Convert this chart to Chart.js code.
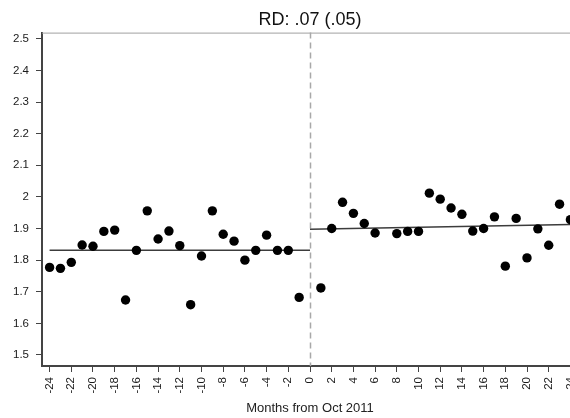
<!DOCTYPE html>
<html>
<head>
<meta charset="utf-8">
<script src="https://cdn.jsdelivr.net/npm/chart.js@4.4.1/dist/chart.umd.min.js"></script>
<style>
  html, body { margin: 0; padding: 0; background: #fff; overflow: hidden; }
  #wrap { width: 570px; height: 418px; overflow: hidden; }
</style>
</head>
<body>
<div id="wrap"><canvas id="rdChart" width="590" height="418"></canvas></div>
<script>
// monthly means before and after the cutoff (month 7 has no observation)
const preMonths = [-24, -23, -22, -21, -20, -19, -18, -17, -16, -15, -14, -13,
  -12, -11, -10, -9, -8, -7, -6, -5, -4, -3, -2, -1];
const preValues = [1.777, 1.774, 1.793, 1.848, 1.844, 1.891, 1.895, 1.674, 1.831, 1.956, 1.867, 1.892,
  1.846, 1.659, 1.813, 1.956, 1.882, 1.860, 1.800, 1.831, 1.879, 1.831, 1.831, 1.682];
const postMonths = [1, 2, 3, 4, 5, 6, 8, 9, 10, 11, 12, 13, 14, 15, 16, 17, 18, 19, 20, 21, 22, 23, 24];
const postValues = [1.712, 1.900, 1.983, 1.948, 1.916, 1.886, 1.884, 1.891, 1.891, 2.012, 1.993, 1.965,
  1.945, 1.892, 1.900, 1.937, 1.781, 1.932, 1.807, 1.899, 1.847, 1.977, 1.928];

// linear fits on each side of the cutoff
const preFitX = [-24, 0];
const preFitY = [1.831, 1.831];
const postFitX = [0, 24];
const postFitY = [1.898, 1.913];

const cutoff = 0;
const xTicks = [-24, -22, -20, -18, -16, -14, -12, -10, -8, -6, -4, -2, 0,
  2, 4, 6, 8, 10, 12, 14, 16, 18, 20, 22, 24];
const yTicks = [1.5, 1.6, 1.7, 1.8, 1.9, 2.0, 2.1, 2.2, 2.3, 2.4, 2.5];

const FONT = "'Liberation Sans', Arial, sans-serif";
const zip = (xs, ys) => xs.map((x, i) => ({ x: x, y: ys[i] }));

// top frame line and dashed cutoff line
const framePlugin = {
  id: 'frame',
  beforeDatasetsDraw(chart) {
    const { ctx, chartArea, scales } = chart;
    ctx.save();
    ctx.strokeStyle = '#a0a0a0';
    ctx.lineWidth = 1;
    ctx.beginPath();
    ctx.moveTo(chartArea.left, chartArea.top + 0.5);
    ctx.lineTo(chartArea.right, chartArea.top + 0.5);
    ctx.stroke();

    const cx = Math.round(scales.x.getPixelForValue(cutoff)) + 0.5;
    ctx.strokeStyle = '#a8a8a8';
    ctx.lineWidth = 1.5;
    ctx.setLineDash([6, 4]);
    ctx.beginPath();
    ctx.moveTo(cx, chartArea.top);
    ctx.lineTo(cx, chartArea.bottom);
    ctx.stroke();
    ctx.restore();
  }
};

const lineStyle = {
  type: 'line',
  borderColor: '#3c3c3c',
  borderWidth: 1.5,
  pointRadius: 0,
  pointHoverRadius: 0,
  fill: false,
  tension: 0,
  order: 2
};

const pointStyle = {
  type: 'scatter',
  backgroundColor: '#000',
  borderWidth: 0,
  pointRadius: 4.7,
  pointHoverRadius: 4.7,
  order: 1
};

new Chart(document.getElementById('rdChart'), {
  data: {
    datasets: [
      Object.assign({ label: 'pre fit', data: zip(preFitX, preFitY) }, lineStyle),
      Object.assign({ label: 'post fit', data: zip(postFitX, postFitY) }, lineStyle),
      Object.assign({ label: 'pre', data: zip(preMonths, preValues) }, pointStyle),
      Object.assign({ label: 'post', data: zip(postMonths, postValues) }, pointStyle)
    ]
  },
  options: {
    responsive: false,
    animation: false,
    devicePixelRatio: 1,
    layout: { padding: { top: 0, left: 0, right: 12, bottom: 0 } },
    plugins: {
      legend: { display: false },
      tooltip: { enabled: false },
      title: {
        display: true,
        fullSize: false,
        text: 'RD: .07 (.05)',
        color: '#111',
        font: { family: FONT, size: 18, weight: 'normal' },
        padding: { top: 9, bottom: 2 }
      }
    },
    scales: {
      x: {
        type: 'linear',
        min: -24.7,
        max: 24.7,
        afterBuildTicks: (axis) => { axis.ticks = xTicks.map(v => ({ value: v })); },
        afterFit: (scale) => { scale.height = 52; },
        ticks: {
          autoSkip: false,
          minRotation: 90,
          maxRotation: 90,
          padding: 5,
          color: '#1a1a1a',
          font: { family: FONT, size: 11.5 },
          callback: (v) => String(v)
        },
        grid: { drawOnChartArea: false, tickLength: 6, color: '#444', lineWidth: 1 },
        border: { color: '#444', width: 2 },
        title: {
          display: true,
          text: 'Months from Oct 2011',
          color: '#222',
          font: { family: FONT, size: 13 },
          padding: { top: 4, bottom: 2 }
        }
      },
      y: {
        type: 'linear',
        min: 1.465,
        max: 2.52,
        afterBuildTicks: (axis) => { axis.ticks = yTicks.map(v => ({ value: v })); },
        afterFit: (scale) => { scale.width = 42; },
        ticks: {
          padding: 7,
          color: '#1a1a1a',
          font: { family: FONT, size: 11.5 },
          callback: (v) => String(Number(v.toFixed(1)))
        },
        grid: { drawOnChartArea: false, tickLength: 6, color: '#444', lineWidth: 1 },
        border: { color: '#444', width: 2 }
      }
    }
  },
  plugins: [framePlugin]
});
</script>
</body>
</html>
